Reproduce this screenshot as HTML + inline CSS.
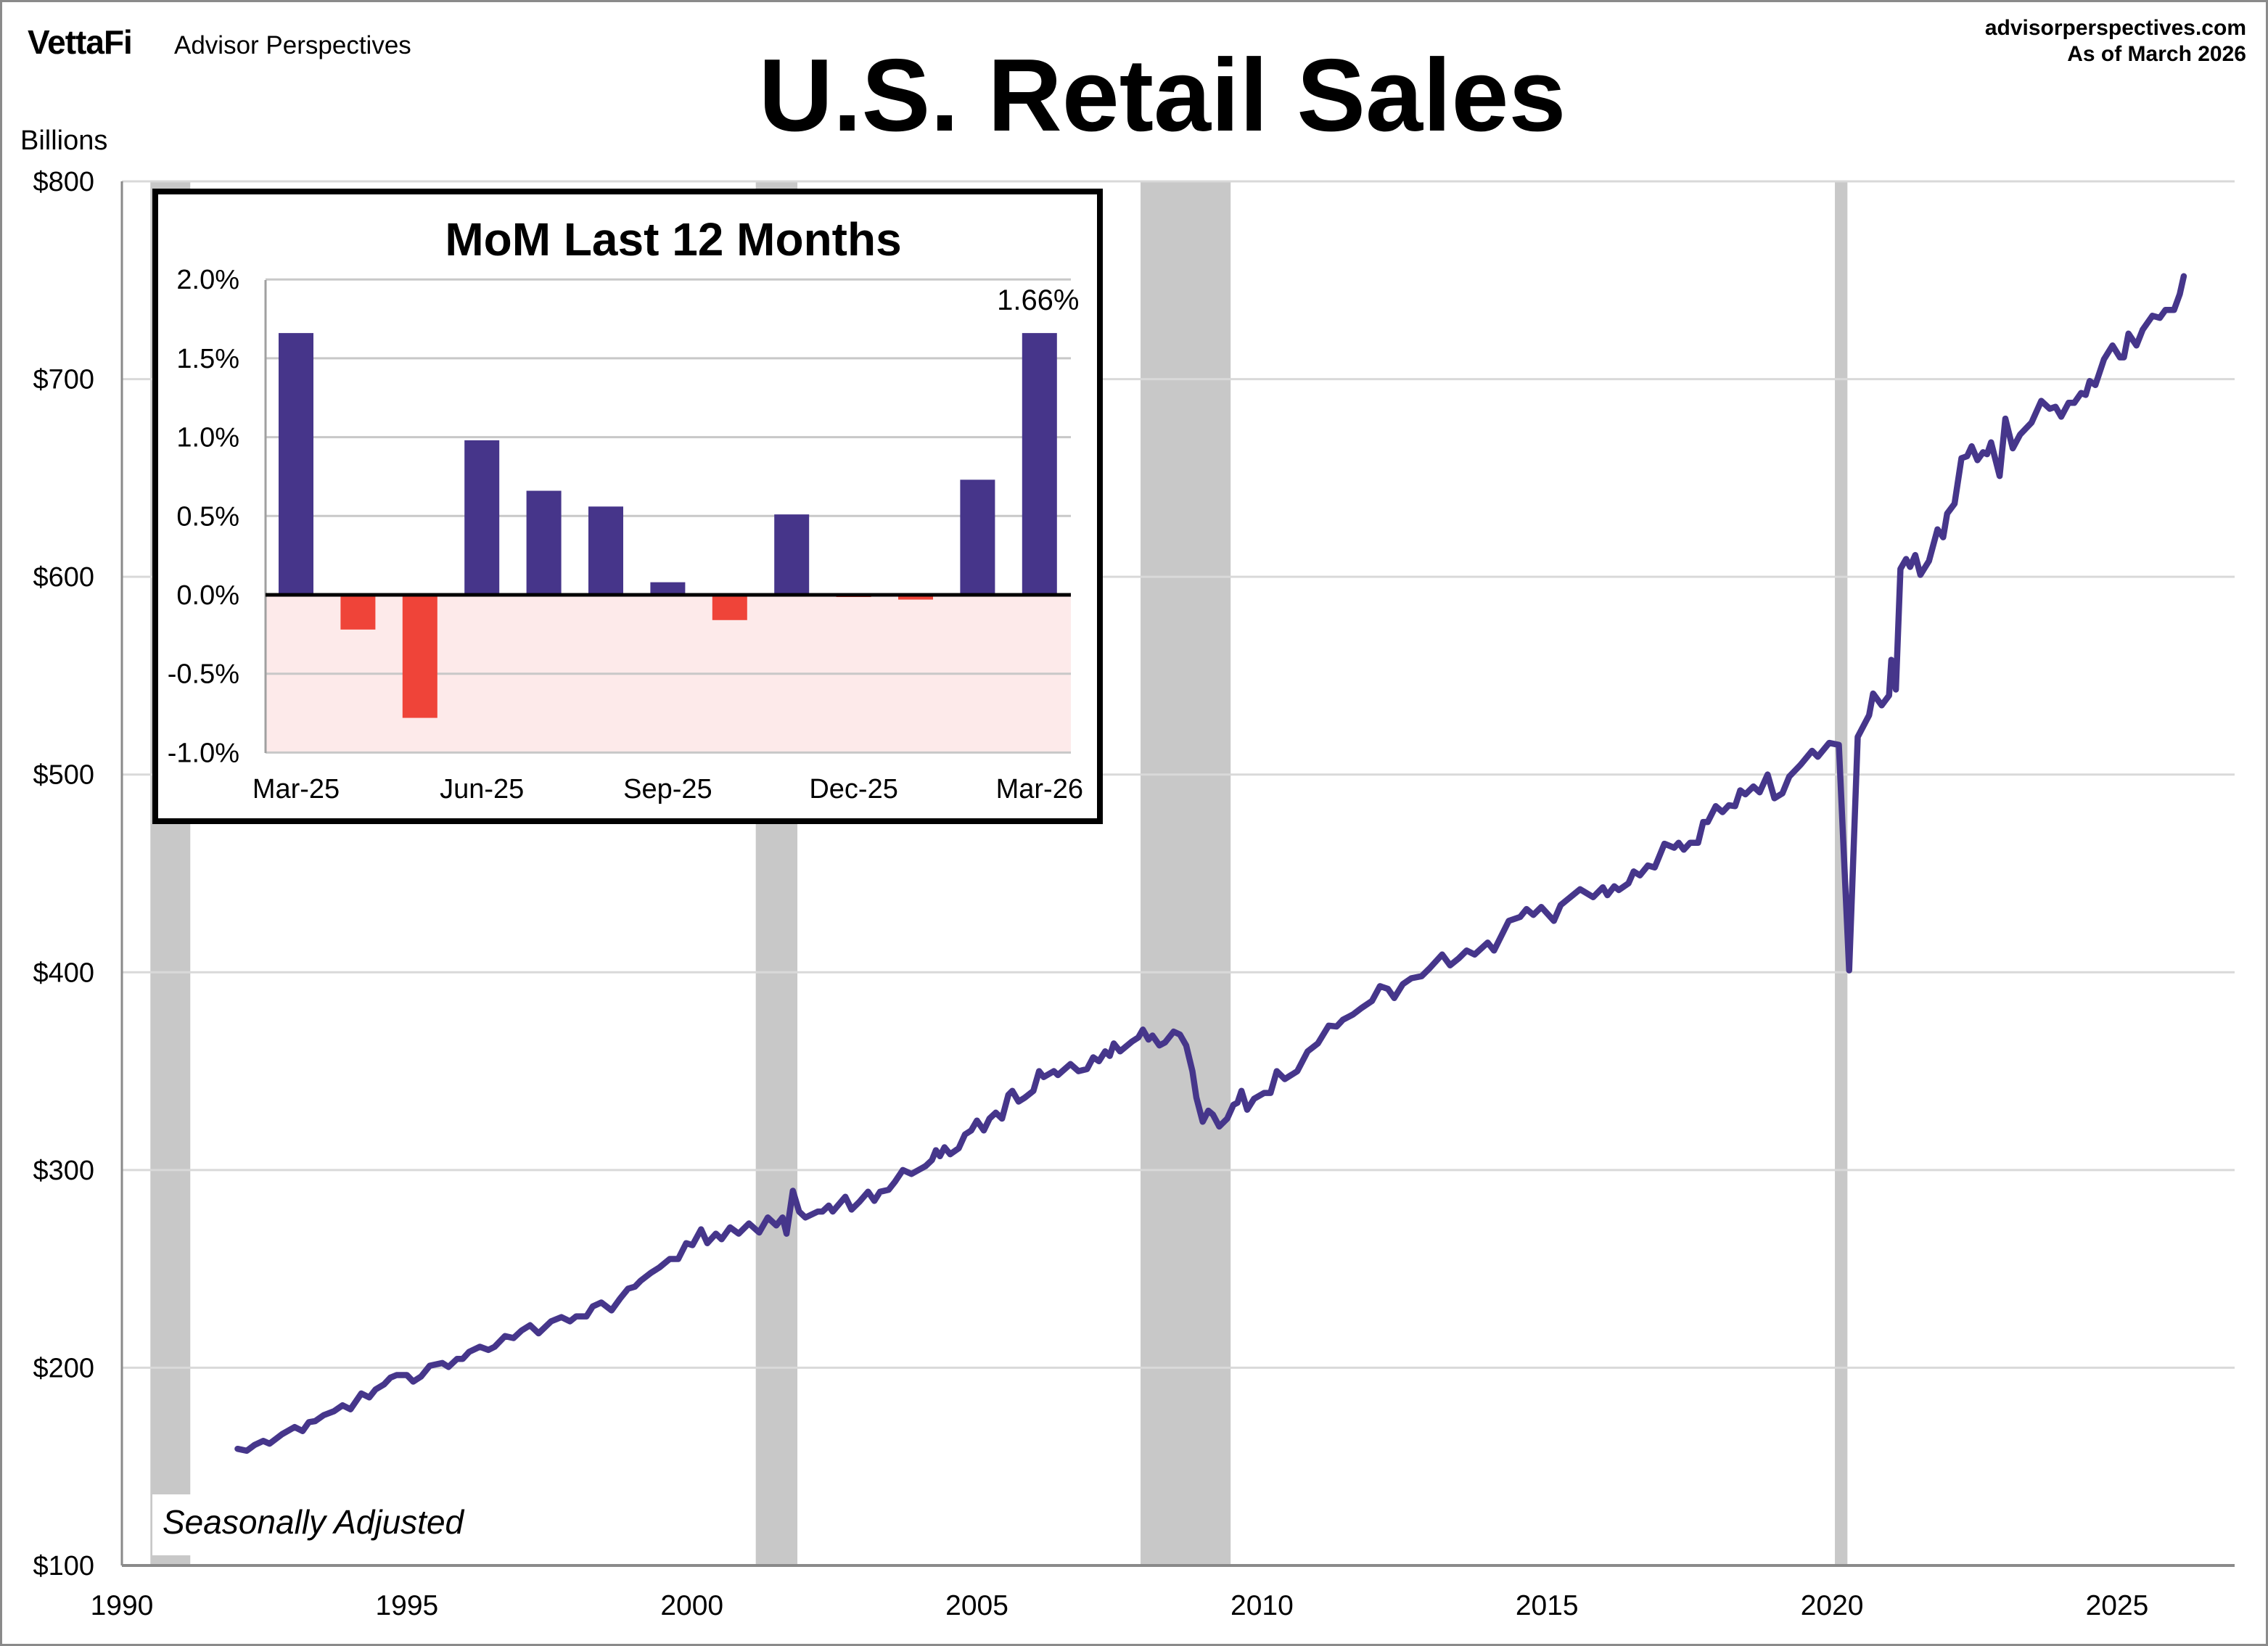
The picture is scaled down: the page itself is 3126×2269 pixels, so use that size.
<!DOCTYPE html>
<html><head><meta charset="utf-8"><style>
body{margin:0;background:#fff}
svg{display:block;font-family:"Liberation Sans",Arial,sans-serif}
</style></head><body>
<svg id="chart" width="3126" height="2269" viewBox="0 0 3126 2269">
<rect x="1.5" y="1.5" width="3123" height="2266" fill="#fff" stroke="#8a8a8a" stroke-width="3"/>
<g id="bands"></g>
<g id="grid"></g>
<g id="ylabels" font-size="38" text-anchor="end" fill="#000"></g>
<g id="xlabels" font-size="39" text-anchor="middle" fill="#000"></g>
<line x1="168" y1="250" x2="168" y2="2158" stroke="#8a8a8a" stroke-width="3"/>
<line x1="168" y1="2158" x2="3080" y2="2158" stroke="#8a8a8a" stroke-width="4"/>
<rect x="210" y="2060" width="450" height="84" fill="#fff"/>
<text x="224" y="2114" font-size="46" font-style="italic">Seasonally Adjusted</text>
<path id="line" fill="none" stroke="#46368b" stroke-width="8.5" stroke-linejoin="round" stroke-linecap="round"/>
<text x="28" y="206" font-size="38">Billions</text>
<text x="38" y="74" font-size="46" font-weight="bold" letter-spacing="-1">VettaFi</text>
<text x="240" y="74" font-size="35">Advisor Perspectives</text>
<text x="1602" y="180" font-size="142" font-weight="bold" text-anchor="middle">U.S. Retail Sales</text>
<text x="3096" y="48" font-size="30" font-weight="bold" text-anchor="end">advisorperspectives.com</text>
<text x="3096" y="84" font-size="30" font-weight="bold" text-anchor="end">As of March 2026</text>
<g id="inset">
<rect x="214" y="264" width="1302" height="868" fill="#fff" stroke="#000" stroke-width="8"/>
<text x="928" y="352" font-size="64" font-weight="bold" text-anchor="middle">MoM Last 12 Months</text>
<rect x="366" y="820" width="1110" height="218" fill="#fdeaea"/>
<g id="igrid"></g>
<g id="ibars"></g>
<line x1="366" y1="386" x2="366" y2="1038" stroke="#a0a0a0" stroke-width="3"/>
<line x1="366" y1="820" x2="1476" y2="820" stroke="#000" stroke-width="5"/>
<g id="iylabels" font-size="38" text-anchor="end"></g>
<g id="ixlabels" font-size="38" text-anchor="middle"></g>
<text id="lastlabel" font-size="40" text-anchor="middle"></text>
</g>
</svg>
<script>
const yTicks=[100,200,300,400,500,600,700,800];
const xTicks=[1990,1995,2000,2005,2010,2015,2020,2025];
const recessions=[[1990.5,1991.2],[2001.12,2001.85],[2007.87,2009.45],[2020.05,2020.27]];
const dates=[1992.03,1992.19,1992.33,1992.48,1992.59,1992.81,1993.03,1993.17,1993.28,1993.39,1993.54,1993.72,1993.87,1994.01,1994.2,1994.34,1994.45,1994.6,1994.71,1994.82,1995.0,1995.11,1995.25,1995.4,1995.62,1995.73,1995.88,1995.98,1996.09,1996.28,1996.43,1996.54,1996.72,1996.87,1997.01,1997.16,1997.31,1997.53,1997.71,1997.86,1997.97,1998.15,1998.26,1998.41,1998.59,1998.74,1998.88,1999.0,1999.1,1999.28,1999.43,1999.61,1999.76,1999.9,2000.01,2000.16,2000.27,2000.42,2000.52,2000.67,2000.82,2001.0,2001.18,2001.33,2001.48,2001.59,2001.66,2001.77,2001.88,2001.99,2002.21,2002.29,2002.4,2002.47,2002.69,2002.8,2002.94,2003.09,2003.2,2003.3,2003.45,2003.56,2003.7,2003.85,2004.1,2004.21,2004.28,2004.35,2004.43,2004.53,2004.68,2004.79,2004.9,2005.0,2005.12,2005.22,2005.33,2005.44,2005.55,2005.62,2005.73,2005.84,2005.99,2006.09,2006.17,2006.35,2006.42,2006.64,2006.78,2006.93,2007.04,2007.14,2007.25,2007.33,2007.4,2007.51,2007.72,2007.83,2007.91,2008.01,2008.08,2008.2,2008.3,2008.45,2008.56,2008.67,2008.78,2008.85,2008.96,2009.06,2009.14,2009.25,2009.39,2009.5,2009.57,2009.64,2009.74,2009.86,2010.04,2010.15,2010.26,2010.4,2010.62,2010.8,2010.98,2011.17,2011.31,2011.42,2011.6,2011.75,2011.93,2012.07,2012.21,2012.32,2012.47,2012.62,2012.8,2012.94,2013.16,2013.3,2013.45,2013.59,2013.73,2013.96,2014.07,2014.33,2014.53,2014.64,2014.76,2014.9,2015.12,2015.24,2015.41,2015.58,2015.81,2015.98,2016.06,2016.18,2016.26,2016.43,2016.52,2016.63,2016.77,2016.89,2017.06,2017.23,2017.31,2017.4,2017.51,2017.65,2017.74,2017.82,2017.96,2018.08,2018.19,2018.3,2018.39,2018.48,2018.62,2018.73,2018.87,2018.99,2019.13,2019.25,2019.45,2019.65,2019.75,2019.95,2020.12,2020.3,2020.45,2020.65,2020.72,2020.87,2021.0,2021.04,2021.12,2021.2,2021.3,2021.37,2021.46,2021.55,2021.7,2021.85,2021.95,2022.02,2022.15,2022.27,2022.37,2022.45,2022.55,2022.65,2022.72,2022.79,2022.94,2023.04,2023.17,2023.3,2023.5,2023.67,2023.82,2023.92,2024.02,2024.15,2024.25,2024.37,2024.45,2024.52,2024.62,2024.77,2024.92,2025.05,2025.12,2025.2,2025.34,2025.45,2025.62,2025.75,2025.85,2026.0,2026.1,2026.17];
const sales=[159,158,161,163,161.6,166.4,170,168,172.5,173,176,178,181,179,187,185,189,191.6,195,196.3,196.3,193,195.6,201,202.4,200.4,204.5,204.5,208,210.6,209,210.6,216,215,218.8,221.5,217.4,223.5,225.6,223.5,226,226,231,233,229,235,240,241,244,248,250.7,255,255,263,262,270,263,267.8,265,271,267.8,273,268.4,276,272,276,267.8,289.5,279,276,279,279,282,279,286.5,280,284,289,284.4,289,290,294,300,298,302,305,310,307,311.5,308,311,318,320,325,320,326,329,326,338,340,334.6,336.6,340,350,347,350,348,353.6,350,351,357,355,360,357.7,364,360,365,367,371,366,368,363,364.5,370,368.5,363,350,336.6,324.4,330,328,322,326,333,334,340,330.5,336,339,339,350,346,350,360,364,373,372.6,376,378.7,382,385.5,393,391.6,387,394,397,398,402,409,403.5,407,411,409,415,411,426,428,432,429,433,426,434,438,442,438,443,439,443.5,441.6,445,451,449,454,453,465,463,465.5,462,465.5,465.5,476,476,484,481,484.5,484,492,490,494,491,500,488,490.5,499,505,512,509,516,515,401,519,530,541,535,540,558,543,604,609,605,611,601,608,624,620,632,637,660,661,666,659,663,662,668,651,680,665,672,678,689,685,686,681,688,688,693,692,699,697,710,717,711,711,723,717,725,732,731,735,735,743,752];
const momMonths=["Mar-25","Apr-25","May-25","Jun-25","Jul-25","Aug-25","Sep-25","Oct-25","Nov-25","Dec-25","Jan-26","Feb-26","Mar-26"];
const momValues=[1.66,-0.22,-0.78,0.98,0.66,0.56,0.08,-0.16,0.51,-0.01,-0.03,0.73,1.66];
const momTicks=[-1.0,-0.5,0.0,0.5,1.0,1.5,2.0];
const momTickLabels=["-1.0%","-0.5%","0.0%","0.5%","1.0%","1.5%","2.0%"];
const momXLabelIdx=[0,3,6,9,12];

const NS="http://www.w3.org/2000/svg";
const X0=168,X1=3080,Y0=2158,Y1=250,PXYR=78.57;
const xs=t=>X0+(t-1990)*PXYR;
const ys=v=>Y0-(v-100)*(Y0-Y1)/700;
function mk(tag,attrs,parent){const e=document.createElementNS(NS,tag);for(const k in attrs)e.setAttribute(k,attrs[k]);parent.appendChild(e);return e;}
const bands=document.getElementById('bands');
recessions.forEach(r=>{
  const e=mk('rect',{x:xs(r[0]),y:Y1,width:xs(r[1])-xs(r[0]),height:Y0-Y1,fill:'#c8c8c8'},bands);
  
  
});
const grid=document.getElementById('grid'),yl=document.getElementById('ylabels'),xl=document.getElementById('xlabels');
yTicks.forEach(v=>{
  if(v>100){const g=mk('line',{x1:X0,x2:X1,y1:ys(v),y2:ys(v),stroke:'#d9d9d9','stroke-width':3},grid);
  
  }
  const t=mk('text',{x:130,y:ys(v)+13},yl);t.textContent='$'+v;
  
  
});
xTicks.forEach(yr=>{
  const t=mk('text',{x:xs(yr),y:2226},xl);t.textContent=yr;
  
  
});
document.getElementById('line').setAttribute('d',dates.map((d,i)=>(i?'L':'M')+xs(d).toFixed(1)+' '+ys(sales[i]).toFixed(1)).join(' '));

// inset
const IX0=366,IX1=1476,IZ=820,IPER=217.4;
const iy=v=>IZ-v*IPER;
const ix=i=>408+i*85.4;
const ig=document.getElementById('igrid'),ib=document.getElementById('ibars'),iyl=document.getElementById('iylabels'),ixl=document.getElementById('ixlabels');
momTicks.forEach((v,i)=>{
  if(v!==0){const g=mk('line',{x1:IX0,x2:IX1,y1:iy(v),y2:iy(v),stroke:'#c8c8c8','stroke-width':3},ig);
  
  }
  const t=mk('text',{x:330,y:iy(v)+13},iyl);t.textContent=momTickLabels[i];
  
  
});
momValues.forEach((v,i)=>{
  const top=Math.min(iy(v),IZ),h=Math.max(Math.abs(iy(v)-IZ),3);
  const b=mk('rect',{x:ix(i)-24,y:top,width:48,height:h,fill:v>=0?'#46358a':'#ef4439'},ib);
  
  
});
momXLabelIdx.forEach(i=>{
  const t=mk('text',{x:ix(i),y:1100},ixl);t.textContent=momMonths[i];
  
  
});
const last=momValues.length-1,ll=document.getElementById('lastlabel');
ll.setAttribute('x',ix(last)-2);ll.setAttribute('y',iy(momValues[last])-32);
ll.textContent=momValues[last].toFixed(2)+'%';
</script>
</body></html>
